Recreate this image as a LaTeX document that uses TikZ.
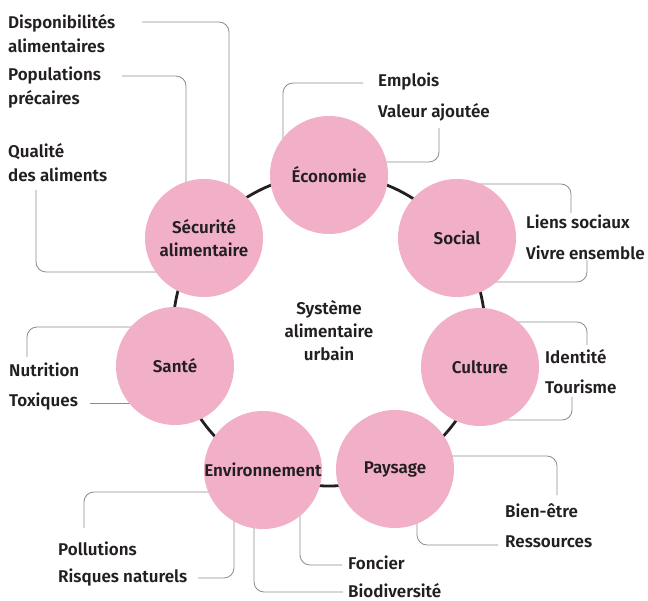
\documentclass[tikz,border=0pt]{standalone}
\usepackage{fontspec}
\setmainfont{Fira Sans}[BoldFont={Fira Sans SemiBold}]
\usetikzlibrary{calc}
\pgfdeclarelayer{bg}
\pgfsetlayers{bg,main}
\definecolor{pinkc}{HTML}{F2B0C8}
\definecolor{txt}{HTML}{231F20}
\definecolor{greyl}{HTML}{8C8C8C}
\tikzset{
  dom/.style={circle, fill=pinkc, minimum size=118pt, inner sep=0pt, align=center, font=\fontsize{17}{23}\selectfont\bfseries, text=txt},
  lab/.style={anchor=west, inner sep=0pt, align=left, font=\fontsize{17}{24}\selectfont\bfseries, text=txt},
  conn/.style={draw=greyl, line width=0.8pt, rounded corners=10pt},
  ring/.style={draw=txt, line width=2.8pt}
}
\begin{document}
\begin{tikzpicture}[x=1pt,y=-1pt]
\useasboundingbox (0,0) rectangle (648,601);
% domains
\node[dom] (eco) at (329,175) {Économie};
\node[dom] (soc) at (457,238) {Social};
\node[dom] (cul) at (480,367) {Culture};
\node[dom] (pay) at (395,469) {Paysage};
\node[dom] (env) at (263,470) {Environnement};
\node[dom] (san) at (175,366) {Santé};
\node[dom] (sec) at (204,238) {Sécurité\\alimentaire};
\node[align=center, inner sep=0pt, font=\fontsize{17}{23}\selectfont\bfseries, text=txt] (sys) at (329,331) {Système\\alimentaire\\urbain};
% labels
\node[lab] (disp) at (8,34) {Disponibilités\\alimentaires};
\node[lab] (popu) at (8,88) {Populations\\précaires};
\node[lab] (qual) at (8,163) {Qualité\\des aliments};
\node[lab] (empl) at (378,82) {Emplois};
\node[lab] (vale) at (378,112) {Valeur ajoutée};
\node[lab] (lien) at (526,222) {Liens sociaux};
\node[lab] (vivr) at (526,253) {Vivre ensemble};
\node[lab] (iden) at (545,357) {Identité};
\node[lab] (tour) at (545,387) {Tourisme};
\node[lab] (bien) at (505,511) {Bien-être};
\node[lab] (ress) at (505,542) {Ressources};
\node[lab] (fonc) at (348,563) {Foncier};
\node[lab] (biod) at (348,591) {Biodiversité};
\node[lab] (poll) at (58,549) {Pollutions};
\node[lab] (risq) at (58,578) {Risques naturels};
\node[lab] (nutr) at (9,370) {Nutrition};
\node[lab] (toxi) at (9,402) {Toxiques};
% free ends
\coordinate (dispE) at (142,22);
\coordinate (popuE) at (122,76);
\coordinate (qualE) at (36,190);
\coordinate (emplE) at (363,83);
\coordinate (valeE) at (439,128);
\coordinate (lienE) at (571,213);
\coordinate (vivrE) at (587,260);
\coordinate (idenE) at (587,345);
\coordinate (tourE) at (572,397);
\coordinate (bienE) at (557,495);
\coordinate (ressE) at (498,545);
\coordinate (pollE) at (84,528);
\coordinate (risqE) at (198,578);
\coordinate (foncE) at (342,565);
\coordinate (biodE) at (343,592);
\coordinate (nutrE) at (27,357);
\coordinate (toxiE) at (90,403);
\begin{pgfonlayer}{bg}
\draw[ring] (329,330) circle[radius=156pt];
\draw[conn] (dispE) -| ($(sec)+(25,0)$);
\draw[conn] (popuE) -| ($(sec)+(-18,0)$);
\draw[conn] (qualE) |- ($(sec)+(0,34)$);
\draw[conn] (emplE) -| ($(eco)+(-46,0)$);
\draw[conn] (valeE) |- ($(eco)+(0,-13)$);
\draw[conn] (lienE) |- ($(soc)+(0,-54)$);
\draw[conn] (vivrE) |- ($(soc)+(0,44)$);
\draw[conn] (idenE) |- ($(cul)+(0,-45)$);
\draw[conn] (tourE) |- ($(cul)+(0,53)$);
\draw[conn] (bienE) |- ($(pay)+(0,-13)$);
\draw[conn] (ressE) -| ($(pay)+(22,0)$);
\draw[conn] (pollE) |- ($(env)+(0,22)$);
\draw[conn] (risqE) -| ($(env)+(-29,0)$);
\draw[conn] (foncE) -| ($(env)+(37,0)$);
\draw[conn] (biodE) -| ($(env)+(-9,0)$);
\draw[conn] (nutrE) |- ($(san)+(0,-39)$);
\draw[conn] (toxiE) -- ($(san)+(0,37)$);
\end{pgfonlayer}
\end{tikzpicture}
\end{document}
